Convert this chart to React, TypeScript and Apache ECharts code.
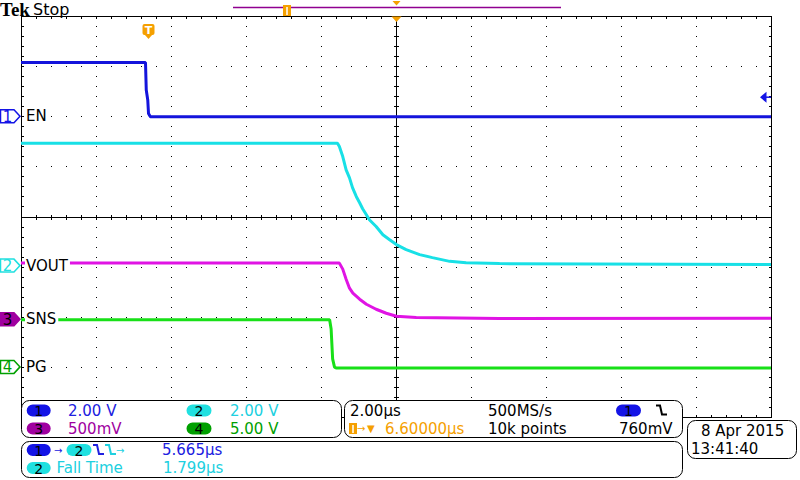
import React, { useEffect, useRef } from "react";
import * as echarts from "echarts";

// ---- acquisition data (time in µs, voltage in V) ----
const TIME_EN = [-3.4, -0.08, -0.06, -0.02, 0.0, 0.05, 16.6];
const VOLT_EN = [2.14, 2.14, 1.05, 0.65, 0.11, -0.02, -0.02];

const TIME_VOUT = [-3.4, 5.04, 5.09, 5.18, 5.27, 5.36, 5.44, 5.54, 5.63, 5.71, 5.81, 5.89, 6.07, 6.25, 6.43, 6.61, 6.87, 7.23, 7.57, 8.03, 8.47, 9.36, 16.6];
const VOLT_VOUT = [4.88, 4.88, 4.75, 4.35, 3.82, 3.5, 3.11, 2.76, 2.51, 2.27, 2.03, 1.83, 1.56, 1.23, 1.03, 0.84, 0.64, 0.44, 0.32, 0.17, 0.11, 0.08, 0.04];

const TIME_SNS = [-3.4, 5.09, 5.18, 5.27, 5.36, 5.45, 5.63, 5.81, 6.07, 6.34, 6.61, 7.14, 9.36, 16.6];
const VOLT_SNS = [0.56, 0.56, 0.5, 0.4, 0.31, 0.26, 0.2, 0.15, 0.1, 0.06, 0.03, 0.017, 0.007, 0.01];

const TIME_PG = [-3.4, 4.83, 4.87, 4.91, 4.96, 5.0, 16.6];
const VOLT_PG = [4.71, 4.71, 3.78, 0.8, -0.03, -0.1, -0.1];

// ---- channel settings ----
const CH_NAMES = ["EN", "VOUT", "SNS", "PG"];
const CH_SCALE = [2, 2, 0.5, 5]; // V/div
const CH_OFFSET = [2.0, -0.98, -2.05, -3.0]; // div
const CH_SCALE_TEXT = ["2.00 V", "2.00 V", "500mV", "5.00 V"];
const TIME_PER_DIV = 2; // µs/div
const H_DELAY = 6.6; // µs
const TRIG_LEVEL = 0.76; // V on ch1

const INFO_TEXT = {
  timebase: "2.00µs",
  sampleRate: "500MS/s",
  delay: "6.60000µs",
  points: "10k points",
  trigLevel: "760mV",
  meas1: "5.665µs",
  meas2Name: "Fall Time",
  meas2: "1.799µs",
  date: "8 Apr 2015",
  time: "13:41:40",
};

// ---- style ----
const TRACE_COLORS = ["#1414dc", "#18e0e6", "#e014e4", "#18e018"];
const MARK_COLORS = ["#1414e6", "#20e0e0", "#a000a0", "#00a000"];
const TEXT_COLORS = ["#2020e0", "#20d0e0", "#a000a0", "#00a000"];
const ORANGE = "#f5a000";
const FONT = '"DejaVu Sans"';

const GL = 21, GT = 16, GW = 750, GH = 401;
const DIVX = GW / 10, DIVY = GH / 8;
const CX = GL + GW / 2, CY = GT + GH / 2;

function toDiv(times: number[], volts: number[], ch: number) {
  return times.map((t, i) => [
    (t - H_DELAY) / TIME_PER_DIV,
    CH_OFFSET[ch] + volts[i] / CH_SCALE[ch],
  ]);
}

const txt = (x: number, y: number, text: string, fill: string, size = 15, extra: any = {}) => ({
  type: "text",
  x,
  y,
  z: 110,
  style: {
    text,
    fill,
    font: `${size}px ${FONT}`,
    textVerticalAlign: "middle",
    verticalAlign: "middle",
    ...extra,
  },
});

const pill = (cx: number, cy: number, w: number, color: string, label: string) => [
  {
    type: "rect",
    z: 105,
    shape: { x: cx - w / 2, y: cy - 6, width: w, height: 12, r: 6 },
    style: { fill: color },
  },
  txt(cx, cy + 0.5, label, "#000", 14, { textAlign: "center", align: "center" }),
];

const edge = (x: number, y: number, color: string) => ({
  type: "polyline",
  z: 110,
  shape: { points: [[x, y - 5], [x + 4, y - 5], [x + 6, y + 4], [x + 11, y + 4]] },
  style: { stroke: color, lineWidth: 2, fill: null },
});

const box = (x: number, y: number, w: number, h: number) => ({
  type: "rect",
  z: 100,
  shape: { x: x + 0.5, y: y + 0.5, width: w, height: h, r: 8 },
  style: { fill: "#fff", stroke: "#000", lineWidth: 1 },
});

const chMarker = (ch: number) => {
  const y = CY - CH_OFFSET[ch] * DIVY;
  const filled = ch === 2;
  return [
    {
      type: "polygon",
      z: 105,
      shape: { points: [[0.5, y - 6.5], [14, y - 6.5], [20, y], [14, y + 6.5], [0.5, y + 6.5]] },
      style: { fill: filled ? MARK_COLORS[ch] : "#fff", stroke: MARK_COLORS[ch], lineWidth: 1.5 },
    },
    txt(7.5, y + 0.5, String(ch + 1), filled ? "#000" : MARK_COLORS[ch], 15, { textAlign: "center", align: "center" }),
    txt(25, y, CH_NAMES[ch], "#000", 15, { backgroundColor: "#fff", padding: [0, 2, 0, 1] }),
  ];
};

// Tek graticule: 10 x 8 divisions, 5 subdivisions each
function renderGraticule(_params: any, api: any) {
  const children: any[] = [];
  const px = (x: number) => Math.round(api.coord([x, 0])[0]);
  const py = (y: number) => Math.round(api.coord([0, y])[1]);
  const dot = (x: number, y: number, w: number, h: number) =>
    children.push({ type: "rect", shape: { x, y, width: w, height: h }, style: { fill: "#000" } });
  const l = px(-5), r = px(5), t = py(4), b = py(-4);
  const cx = px(0), cy = py(0);
  // border
  dot(l, t, r - l + 1, 1);
  dot(l, b, r - l + 1, 1);
  dot(l, t, 1, b - t + 1);
  dot(r, t, 1, b - t + 1);
  // center cross
  dot(l, cy, r - l + 1, 1);
  dot(cx, t, 1, b - t + 1);
  // dotted division lines
  for (let d = -4; d <= 4; d++) {
    if (d === 0) continue;
    const x = px(d);
    for (let k = 0; k <= 40; k++) dot(x, py(-4 + k * 0.2), 1, 1);
  }
  for (let d = -3; d <= 3; d++) {
    if (d === 0) continue;
    const y = py(d);
    for (let k = 0; k <= 50; k++) dot(px(-5 + k * 0.2), y, 1, 1);
  }
  // subdivision ticks on border and center cross
  for (let k = 1; k < 50; k++) {
    const x = px(-5 + k * 0.2);
    dot(x, t + 1, 1, 2);
    dot(x, b - 2, 1, 2);
    dot(x, cy - 2, 1, 5);
  }
  for (let k = 1; k < 40; k++) {
    const y = py(-4 + k * 0.2);
    dot(l + 1, y, 2, 1);
    dot(r - 2, y, 2, 1);
    dot(cx - 2, y, 5, 1);
  }
  return { type: "group", children };
}

export default function App() {
  const ref = useRef<HTMLDivElement>(null);
  useEffect(() => {
    if (!ref.current) return;
    const chart = echarts.init(ref.current, null, { renderer: "svg" });

    const traces = [
      toDiv(TIME_EN, VOLT_EN, 0),
      toDiv(TIME_VOUT, VOLT_VOUT, 1),
      toDiv(TIME_SNS, VOLT_SNS, 2),
      toDiv(TIME_PG, VOLT_PG, 3),
    ];

    const trigX = CX + ((0 - H_DELAY) / TIME_PER_DIV) * DIVX;
    const trigY = CY - (CH_OFFSET[0] + TRIG_LEVEL / CH_SCALE[0]) * DIVY;

    const elements: any[] = [
      // header
      txt(0, 9, "Tek", "#000", 19, { font: `bold 19px "Liberation Serif"` }),
      txt(33, 9, "Stop", "#000", 16),
      { type: "line", z: 100, shape: { x1: 233, y1: 7.5, x2: 561, y2: 7.5 }, style: { stroke: "#900090", lineWidth: 1.5 } },
      { type: "rect", z: 101, shape: { x: 283, y: 5, width: 8, height: 11 }, style: { fill: ORANGE } },
      { type: "line", z: 102, shape: { x1: 287, y1: 7, x2: 287, y2: 15 }, style: { stroke: "#fff", lineWidth: 1.5 } },
      { type: "polygon", z: 101, shape: { points: [[392.5, 1], [400.5, 1], [396.5, 5.5]] }, style: { fill: ORANGE } },
      { type: "polygon", z: 101, shape: { points: [[391.5, 16.5], [401.5, 16.5], [396.5, 22]] }, style: { fill: ORANGE } },
      // trigger position marker
      { type: "rect", z: 101, shape: { x: trigX - 6, y: 24, width: 12, height: 11, r: 2 }, style: { fill: ORANGE } },
      { type: "polygon", z: 101, shape: { points: [[trigX - 4, 34.5], [trigX + 4, 34.5], [trigX, 39]] }, style: { fill: ORANGE } },
      txt(trigX, 30, "T", "#fff", 11, { font: `bold 11px ${FONT}`, textAlign: "center", align: "center" }),
      // trigger level arrow
      { type: "polygon", z: 101, shape: { points: [[760, trigY], [766.5, trigY - 5.5], [766.5, trigY + 5.5]] }, style: { fill: MARK_COLORS[0] } },
      { type: "line", z: 101, shape: { x1: 766, y1: trigY, x2: 771, y2: trigY }, style: { stroke: MARK_COLORS[0], lineWidth: 1.5 } },
      ...chMarker(0),
      ...chMarker(1),
      ...chMarker(2),
      ...chMarker(3),
      // info boxes
      box(21, 400, 320, 37),
      box(344, 400, 338, 37),
      box(21, 441, 661, 36),
      box(687, 420, 109, 38),
      // box A
      ...pill(38.7, 410.5, 24, MARK_COLORS[0], "1"),
      txt(68, 410.5, CH_SCALE_TEXT[0], TEXT_COLORS[0]),
      ...pill(199, 410.5, 25, MARK_COLORS[1], "2"),
      txt(230, 410.5, CH_SCALE_TEXT[1], TEXT_COLORS[1]),
      ...pill(38.7, 428.5, 24, MARK_COLORS[2], "3"),
      txt(68, 428.5, CH_SCALE_TEXT[2], TEXT_COLORS[2]),
      ...pill(199, 428.5, 25, MARK_COLORS[3], "4"),
      txt(230, 428.5, CH_SCALE_TEXT[3], TEXT_COLORS[3]),
      // box B
      txt(350, 410.5, INFO_TEXT.timebase, "#000"),
      txt(488, 410.5, INFO_TEXT.sampleRate, "#000"),
      ...pill(628.5, 410.5, 25, MARK_COLORS[0], "1"),
      edge(656, 410.5, "#000"),
      { type: "rect", z: 105, shape: { x: 349, y: 423, width: 8, height: 11 }, style: { fill: ORANGE } },
      { type: "line", z: 106, shape: { x1: 353, y1: 425, x2: 353, y2: 433 }, style: { stroke: "#fff", lineWidth: 1.5 } },
      txt(357, 428.5, "→", ORANGE, 10),
      txt(367, 428.5, "▼", ORANGE, 10),
      txt(385, 428.5, INFO_TEXT.delay, ORANGE),
      txt(488, 428.5, INFO_TEXT.points, "#000"),
      txt(619, 428.5, INFO_TEXT.trigLevel, "#000"),
      // box C
      ...pill(38.7, 450, 24, MARK_COLORS[0], "1"),
      txt(54, 450, "→", TEXT_COLORS[0], 10),
      ...pill(79, 450, 25, MARK_COLORS[1], "2"),
      edge(93, 450, TEXT_COLORS[0]),
      edge(105, 450, TEXT_COLORS[1]),
      txt(116, 450, "→", TEXT_COLORS[1], 10),
      txt(162, 450, INFO_TEXT.meas1, TEXT_COLORS[0]),
      ...pill(38.7, 468, 24, MARK_COLORS[1], "2"),
      txt(56.5, 468, INFO_TEXT.meas2Name, TEXT_COLORS[1]),
      txt(163, 468, INFO_TEXT.meas2, TEXT_COLORS[1]),
      // box D
      txt(701, 431, INFO_TEXT.date, "#000"),
      txt(691, 448.5, INFO_TEXT.time, "#000"),
    ];

    chart.setOption({
      animation: false,
      backgroundColor: "#fff",
      grid: { left: GL, top: GT, width: GW, height: GH, containLabel: false, show: false },
      xAxis: {
        type: "value", min: -5, max: 5, interval: 1,
        axisLine: { show: false }, axisTick: { show: false }, axisLabel: { show: false }, splitLine: { show: false },
      },
      yAxis: {
        type: "value", min: -4, max: 4, interval: 1,
        axisLine: { show: false }, axisTick: { show: false }, axisLabel: { show: false }, splitLine: { show: false },
      },
      series: [
        {
          type: "custom",
          name: "graticule",
          data: [[0, 0]],
          renderItem: renderGraticule,
          silent: true,
          clip: false,
          z: 1,
        },
        ...traces.map((data, i) => ({
          type: "line",
          name: CH_NAMES[i],
          data,
          showSymbol: false,
          symbol: "none",
          silent: true,
          clip: true,
          lineStyle: { color: TRACE_COLORS[i], width: 3 },
          z: 5,
        })),
      ],
      graphic: { elements },
    });
    return () => chart.dispose();
  }, []);
  return (
    <div
      ref={ref}
      style={{ position: "fixed", left: 0, top: 0, width: 800, height: 480, background: "#fff" }}
    />
  );
}
